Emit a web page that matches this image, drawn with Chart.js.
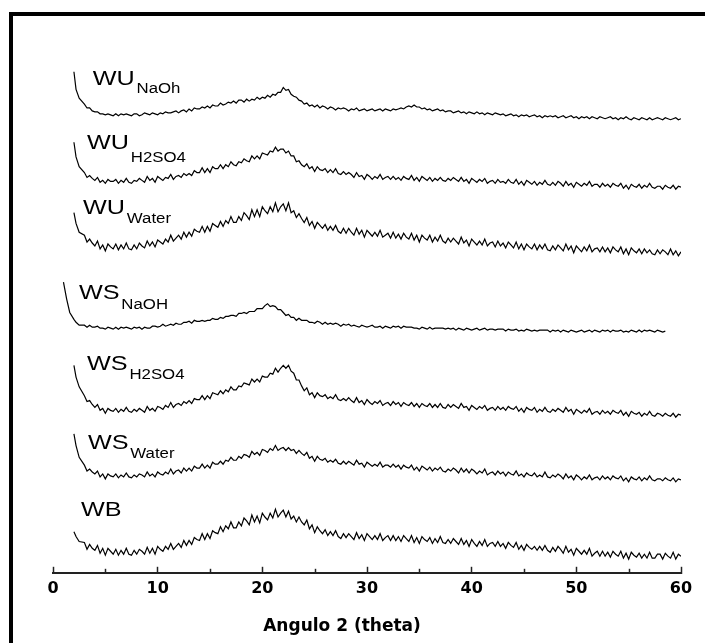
<!DOCTYPE html>
<html>
<head>
<meta charset="utf-8">
<script src="https://cdn.jsdelivr.net/npm/chart.js@4/dist/chart.umd.min.js"></script>
<style>
  body { margin: 0; background: #fff; }
  canvas { display: block; }
</style>
</head>
<body>
<canvas id="xrdChart" width="705" height="643"></canvas>
<script>
// 2 theta positions (degrees)
var angles = [1.0, 1.3, 1.6, 2.0, 2.2, 2.5,
  3, 3.25, 3.5, 3.75, 4, 4.25, 4.5, 4.75, 5, 5.25, 5.5, 5.75, 6, 6.25, 6.5, 6.75, 7, 7.25, 7.5, 7.75,
  8, 8.25, 8.5, 8.75, 9, 9.25, 9.5, 9.75, 10, 10.25, 10.5, 10.75, 11, 11.25, 11.5, 11.75, 12, 12.25, 12.5, 12.75,
  13, 13.25, 13.5, 13.75, 14, 14.25, 14.5, 14.75, 15, 15.25, 15.5, 15.75, 16, 16.25, 16.5, 16.75, 17, 17.25, 17.5, 17.75,
  18, 18.25, 18.5, 18.75, 19, 19.25, 19.5, 19.75, 20, 20.25, 20.5, 20.75, 21, 21.25, 21.5, 21.75, 22, 22.25, 22.5, 22.75,
  23, 23.25, 23.5, 23.75, 24, 24.25, 24.5, 24.75, 25, 25.25, 25.5, 25.75, 26, 26.25, 26.5, 26.75, 27, 27.25, 27.5, 27.75,
  28, 28.25, 28.5, 28.75, 29, 29.25, 29.5, 29.75, 30, 30.25, 30.5, 30.75, 31, 31.25, 31.5, 31.75, 32, 32.25, 32.5, 32.75,
  33, 33.25, 33.5, 33.75, 34, 34.25, 34.5, 34.75, 35, 35.25, 35.5, 35.75, 36, 36.25, 36.5, 36.75, 37, 37.25, 37.5, 37.75,
  38, 38.25, 38.5, 38.75, 39, 39.25, 39.5, 39.75, 40, 40.25, 40.5, 40.75, 41, 41.25, 41.5, 41.75, 42, 42.25, 42.5, 42.75,
  43, 43.25, 43.5, 43.75, 44, 44.25, 44.5, 44.75, 45, 45.25, 45.5, 45.75, 46, 46.25, 46.5, 46.75, 47, 47.25, 47.5, 47.75,
  48, 48.25, 48.5, 48.75, 49, 49.25, 49.5, 49.75, 50, 50.25, 50.5, 50.75, 51, 51.25, 51.5, 51.75, 52, 52.25, 52.5, 52.75,
  53, 53.25, 53.5, 53.75, 54, 54.25, 54.5, 54.75, 55, 55.25, 55.5, 55.75, 56, 56.25, 56.5, 56.75, 57, 57.25, 57.5, 57.75,
  58, 58.25, 58.5, 58.75, 59, 59.25, 59.5, 59.75, 60];

// stacked intensities (a.u., each pattern shifted up)
var wuNaoh = [null, null, null, 512, 494, 485,
  479, 475, 475, 472, 471, 471, 469, 469, 468, 469, 468, 467, 469, 467, 469, 468, 469, 468, 467, 469,
  469, 467, 468, 470, 469, 468, 470, 469, 468, 470, 469, 471, 470, 470, 471, 472, 470, 472, 473, 471,
  474, 472, 475, 474, 474, 476, 475, 477, 475, 478, 477, 477, 480, 478, 479, 481, 480, 482, 480, 483,
  483, 481, 484, 482, 484, 483, 486, 484, 486, 485, 488, 486, 489, 488, 491, 491, 496, 493, 494, 489,
  487, 486, 483, 482, 479, 480, 477, 478, 476, 478, 475, 477, 476, 474, 476, 475, 473, 475, 474, 475,
  474, 472, 474, 473, 475, 472, 473, 474, 472, 473, 474, 472, 473, 474, 472, 474, 473, 472, 474, 473,
  474, 475, 474, 476, 477, 476, 478, 476, 476, 474, 475, 473, 474, 472, 473, 474, 472, 473, 471, 472,
  472, 470, 471, 472, 470, 471, 469, 471, 470, 469, 471, 469, 470, 468, 470, 469, 468, 470, 469, 468,
  469, 467, 468, 469, 467, 468, 466, 468, 467, 468, 466, 467, 468, 466, 467, 465, 467, 466, 467, 466,
  467, 465, 466, 467, 465, 466, 467, 465, 466, 464, 466, 465, 466, 464, 466, 465, 464, 466, 465, 464,
  465, 466, 464, 465, 463, 465, 464, 466, 464, 463, 465, 464, 463, 465, 464, 463, 465, 463, 464, 465,
  464, 463, 465, 464, 463, 464, 465, 463, 464];

var wuH2so4 = [null, null, null, 440, 425, 415,
  409, 404, 406, 403, 401, 404, 399, 401, 398, 402, 400, 400, 402, 398, 401, 399, 403, 399, 398, 401,
  400, 403, 401, 399, 405, 401, 403, 399, 405, 403, 401, 404, 403, 407, 402, 405, 406, 404, 408, 406,
  408, 406, 411, 409, 409, 414, 409, 413, 409, 415, 413, 413, 417, 413, 417, 415, 420, 417, 416, 420,
  419, 423, 421, 420, 426, 423, 426, 423, 429, 428, 427, 431, 430, 435, 431, 433, 433, 429, 431, 426,
  426, 420, 421, 417, 415, 418, 413, 415, 410, 415, 412, 411, 413, 409, 412, 409, 413, 408, 407, 410,
  407, 409, 407, 404, 409, 405, 406, 402, 407, 405, 402, 405, 403, 407, 402, 404, 405, 402, 405, 402,
  404, 401, 405, 403, 402, 406, 401, 404, 400, 405, 403, 401, 404, 400, 403, 401, 404, 401, 400, 403,
  401, 404, 402, 400, 404, 400, 402, 398, 403, 401, 399, 402, 400, 403, 398, 400, 401, 398, 402, 399,
  400, 398, 402, 399, 398, 402, 397, 400, 396, 401, 399, 397, 400, 396, 399, 397, 401, 397, 396, 399,
  396, 400, 398, 395, 400, 396, 398, 394, 399, 397, 395, 398, 396, 400, 395, 397, 397, 394, 398, 395,
  397, 394, 398, 396, 395, 398, 393, 396, 392, 397, 395, 394, 397, 393, 396, 394, 398, 394, 393, 395,
  395, 392, 396, 394, 393, 396, 392, 395, 394];

var wuWater = [null, null, null, 368, 357, 348,
  345, 338, 341, 337, 334, 339, 331, 335, 329, 336, 333, 331, 336, 330, 335, 331, 337, 331, 330, 335,
  331, 337, 334, 332, 339, 334, 338, 333, 340, 338, 336, 341, 338, 345, 339, 342, 345, 341, 348, 343,
  348, 344, 351, 349, 348, 354, 348, 354, 349, 357, 355, 353, 359, 354, 360, 357, 364, 358, 358, 364,
  360, 368, 365, 361, 371, 364, 371, 364, 374, 370, 367, 374, 369, 378, 369, 374, 377, 370, 378, 368,
  370, 363, 367, 362, 358, 363, 355, 359, 352, 358, 355, 352, 356, 350, 354, 350, 355, 349, 347, 352,
  347, 352, 348, 345, 352, 346, 350, 343, 350, 347, 344, 348, 344, 350, 343, 345, 347, 342, 348, 342,
  346, 341, 347, 343, 341, 347, 340, 345, 338, 345, 342, 340, 345, 338, 343, 339, 345, 339, 337, 342,
  338, 342, 339, 336, 343, 337, 340, 334, 341, 338, 335, 339, 335, 341, 334, 337, 338, 333, 339, 334,
  337, 332, 338, 335, 332, 338, 331, 336, 330, 336, 333, 331, 336, 330, 335, 331, 336, 330, 329, 334,
  330, 335, 332, 329, 336, 330, 334, 327, 334, 331, 328, 333, 329, 335, 328, 331, 332, 328, 333, 328,
  332, 327, 333, 330, 328, 333, 326, 331, 325, 332, 329, 327, 331, 326, 331, 327, 330, 326, 325, 330,
  326, 330, 328, 325, 331, 325, 329, 324, 328];

var wsNaoh = [297, 280, 266, 259, 256, 253,
  253, 251, 253, 251, 251, 252, 250, 250, 249, 251, 250, 249, 251, 249, 251, 250, 251, 250, 249, 251,
  250, 251, 249, 251, 250, 250, 252, 252, 251, 252, 254, 252, 253, 254, 253, 255, 254, 254, 256, 256,
  257, 255, 258, 257, 257, 258, 257, 258, 258, 260, 259, 259, 261, 260, 262, 262, 263, 263, 262, 265,
  265, 266, 265, 267, 267, 267, 270, 270, 270, 273, 275, 272, 273, 272, 269, 269, 266, 263, 264, 261,
  261, 258, 260, 258, 258, 258, 256, 256, 255, 257, 256, 254, 256, 254, 255, 254, 255, 254, 252, 254,
  253, 254, 252, 253, 252, 251, 253, 252, 251, 252, 253, 251, 251, 252, 250, 252, 251, 250, 252, 251,
  252, 250, 252, 251, 251, 251, 250, 250, 249, 251, 250, 249, 251, 249, 250, 250, 250, 250, 249, 250,
  249, 250, 248, 250, 249, 248, 250, 249, 248, 249, 250, 248, 249, 250, 248, 249, 249, 248, 249, 249,
  249, 247, 249, 248, 248, 249, 247, 248, 247, 249, 248, 247, 248, 247, 248, 248, 248, 248, 246, 248,
  247, 248, 246, 248, 247, 246, 248, 247, 246, 247, 248, 246, 247, 248, 246, 248, 247, 246, 248, 247,
  248, 246, 248, 247, 247, 248, 246, 247, 246, 248, 247, 246, 248, 246, 248, 247, 248, 247, 246, 248,
  247, 246, 247, null, null, null, null, null, null];

var wsH2so4 = [null, null, null, 212, 200, 190,
  181, 175, 176, 172, 169, 172, 166, 168, 163, 168, 166, 165, 168, 164, 167, 165, 169, 165, 164, 167,
  165, 168, 166, 164, 170, 166, 168, 165, 170, 169, 167, 171, 169, 174, 169, 172, 173, 171, 175, 173,
  176, 173, 178, 177, 177, 181, 177, 181, 178, 184, 183, 182, 186, 183, 187, 185, 190, 187, 187, 191,
  190, 194, 193, 192, 198, 195, 198, 195, 201, 200, 200, 204, 203, 209, 205, 209, 212, 209, 212, 206,
  204, 197, 197, 191, 186, 189, 182, 184, 179, 184, 181, 180, 182, 178, 180, 178, 182, 177, 176, 178,
  176, 179, 176, 174, 179, 174, 176, 172, 177, 174, 172, 175, 173, 176, 171, 173, 174, 171, 175, 172,
  174, 170, 174, 172, 171, 174, 170, 173, 169, 173, 171, 170, 173, 169, 172, 169, 173, 169, 168, 172,
  169, 172, 170, 168, 173, 169, 170, 166, 171, 169, 167, 170, 168, 171, 166, 168, 169, 166, 170, 167,
  169, 166, 170, 168, 167, 170, 165, 168, 164, 169, 167, 166, 169, 164, 167, 165, 169, 165, 164, 167,
  165, 168, 166, 164, 169, 165, 167, 162, 167, 165, 163, 166, 164, 168, 162, 164, 165, 162, 166, 163,
  165, 162, 166, 164, 163, 166, 161, 164, 160, 165, 163, 162, 164, 160, 163, 161, 165, 161, 160, 163,
  162, 160, 163, 161, 160, 163, 159, 162, 161];

var wsWater = [null, null, null, 142, 130, 118,
  110, 104, 106, 103, 101, 104, 98, 101, 96, 101, 99, 98, 101, 97, 100, 98, 102, 98, 97, 100,
  98, 101, 100, 98, 103, 99, 101, 98, 103, 101, 100, 103, 101, 106, 101, 104, 105, 102, 107, 104,
  107, 104, 109, 107, 107, 111, 107, 110, 107, 113, 111, 111, 114, 111, 115, 114, 118, 115, 115, 119,
  117, 121, 120, 118, 124, 121, 123, 120, 126, 125, 123, 127, 125, 130, 125, 127, 128, 125, 128, 125,
  126, 122, 125, 122, 120, 123, 117, 119, 114, 119, 116, 115, 117, 113, 115, 113, 116, 112, 111, 114,
  111, 114, 112, 110, 115, 111, 112, 108, 113, 111, 109, 111, 109, 113, 108, 110, 110, 108, 111, 108,
  110, 106, 110, 108, 107, 110, 105, 108, 104, 109, 107, 105, 108, 104, 107, 105, 108, 104, 103, 106,
  104, 107, 105, 102, 107, 103, 106, 102, 106, 104, 101, 104, 102, 106, 100, 102, 103, 100, 104, 101,
  103, 99, 103, 101, 100, 104, 99, 101, 98, 102, 100, 99, 102, 98, 100, 98, 103, 98, 97, 100,
  98, 101, 99, 96, 101, 97, 99, 95, 100, 98, 95, 98, 96, 100, 95, 97, 98, 95, 99, 96,
  98, 95, 99, 97, 96, 99, 94, 97, 93, 98, 96, 95, 98, 94, 97, 95, 99, 95, 94, 96,
  96, 94, 97, 95, 94, 97, 93, 96, 95];

var wb = [null, null, null, 42, 37, 32,
  31, 24, 29, 25, 23, 28, 20, 25, 18, 25, 22, 19, 24, 18, 23, 19, 25, 19, 18, 23,
  19, 24, 22, 19, 26, 20, 25, 19, 27, 24, 22, 27, 24, 30, 24, 27, 30, 26, 33, 28,
  33, 29, 36, 34, 33, 40, 34, 40, 35, 43, 41, 40, 47, 42, 48, 45, 52, 46, 46, 52,
  48, 56, 53, 49, 59, 52, 58, 51, 61, 57, 54, 61, 56, 65, 57, 61, 64, 57, 63, 55,
  58, 52, 57, 52, 49, 54, 45, 49, 41, 47, 43, 40, 44, 38, 42, 38, 43, 37, 35, 40,
  36, 40, 37, 34, 41, 35, 39, 33, 40, 37, 34, 38, 34, 40, 33, 36, 38, 33, 38, 33,
  37, 32, 38, 35, 32, 38, 31, 36, 30, 37, 34, 32, 36, 30, 35, 31, 37, 31, 30, 34,
  30, 35, 32, 29, 35, 29, 33, 27, 34, 30, 27, 32, 28, 34, 27, 30, 31, 27, 32, 27,
  30, 25, 31, 28, 26, 31, 24, 28, 23, 29, 26, 24, 27, 23, 27, 23, 28, 23, 21, 26,
  22, 27, 24, 20, 27, 21, 24, 18, 25, 22, 19, 23, 19, 25, 17, 20, 22, 17, 22, 17,
  21, 16, 22, 19, 17, 22, 15, 20, 14, 21, 18, 16, 20, 15, 19, 15, 21, 15, 15, 19,
  19, 14, 20, 17, 15, 21, 14, 19, 17];

var xTicks = [0, 10, 20, 30, 40, 50, 60];
var minorTicks = [5, 15, 25, 35, 45, 55];

// sample names, drawn next to each pattern
var sampleMain = ['WU', 'WU', 'WU', 'WS', 'WS', 'WS', 'WB'];
var sampleSub = ['NaOh', 'H2SO4', 'Water', 'NaOH', 'H2SO4', 'Water', ''];
var labelAt = [[3.8, 498], [3.25, 433], [2.87, 367], [2.48, 280], [3.25, 207], [3.34, 127], [2.67, 58]];
var subDrop = [8, 13, 9, 10, 9, 9, 0];

var series = [wuNaoh, wuH2so4, wuWater, wsNaoh, wsH2so4, wsWater, wb];

var extras = {
  id: 'extras',
  beforeDraw: function(chart) {
    var ctx = chart.ctx;
    ctx.save();
    ctx.fillStyle = '#fff';
    ctx.fillRect(0, 0, chart.width, chart.height);
    // figure frame
    ctx.fillStyle = '#000';
    ctx.fillRect(9, 12, chart.width - 9, 4);
    ctx.fillRect(9, 12, 4, chart.height - 12);
    ctx.restore();
  },
  afterDraw: function(chart) {
    var ctx = chart.ctx;
    var xs = chart.scales.x, ys = chart.scales.y;
    ctx.save();
    // minor ticks
    ctx.strokeStyle = '#222';
    ctx.lineWidth = 1.5;
    minorTicks.forEach(function(v) {
      var px = Math.round(xs.getPixelForValue(v)) + 0.5;
      ctx.beginPath();
      ctx.moveTo(px, xs.top);
      ctx.lineTo(px, xs.top - 4);
      ctx.stroke();
    });
    // sample labels
    ctx.fillStyle = '#000';
    ctx.textBaseline = 'alphabetic';
    ctx.textAlign = 'left';
    for (var i = 0; i < sampleMain.length; i++) {
      var px = xs.getPixelForValue(labelAt[i][0]);
      var py = ys.getPixelForValue(labelAt[i][1]);
      ctx.save();
      ctx.translate(px, py);
      ctx.scale(1.2, 1);
      ctx.font = '21px "Liberation Sans", Arial, sans-serif';
      ctx.fillText(sampleMain[i], 0, 0);
      var w = ctx.measureText(sampleMain[i]).width;
      if (sampleSub[i]) {
        ctx.font = '14px "Liberation Sans", Arial, sans-serif';
        ctx.fillText(sampleSub[i], w + 1.5, subDrop[i]);
      }
      ctx.restore();
    }
    // axis title
    ctx.font = 'bold 17px "DejaVu Sans", sans-serif';
    ctx.textAlign = 'center';
    ctx.fillText('Angulo 2 (theta)', 342, 631);
    ctx.restore();
  }
};

var datasets = series.map(function(d) {
  return {
    data: d,
    borderColor: '#000',
    borderWidth: 1.2,
    pointRadius: 0,
    fill: false,
    tension: 0
  };
});

var chart = new Chart(document.getElementById('xrdChart').getContext('2d'), {
  type: 'line',
  data: { labels: angles, datasets: datasets },
  options: {
    responsive: false,
    animation: false,
    devicePixelRatio: 1,
    layout: { padding: { left: 53, right: 24, top: 15, bottom: 33 } },
    plugins: { legend: { display: false }, tooltip: { enabled: false } },
    scales: {
      x: {
        type: 'linear',
        min: 0,
        max: 60,
        afterBuildTicks: function(scale) {
          scale.ticks = xTicks.map(function(v) { return { value: v }; });
        },
        grid: { display: true, drawOnChartArea: false, drawTicks: true, tickLength: -6, tickWidth: 1.5, tickColor: '#222' },
        border: { display: true, color: '#222', width: 2 },
        ticks: {
          padding: 12,
          color: '#000',
          maxRotation: 0,
          font: { family: 'DejaVu Sans', weight: 'bold', size: 16 }
        }
      },
      y: { display: false, min: 0, max: 570 }
    }
  },
  plugins: [extras]
});
</script>
</body>
</html>
